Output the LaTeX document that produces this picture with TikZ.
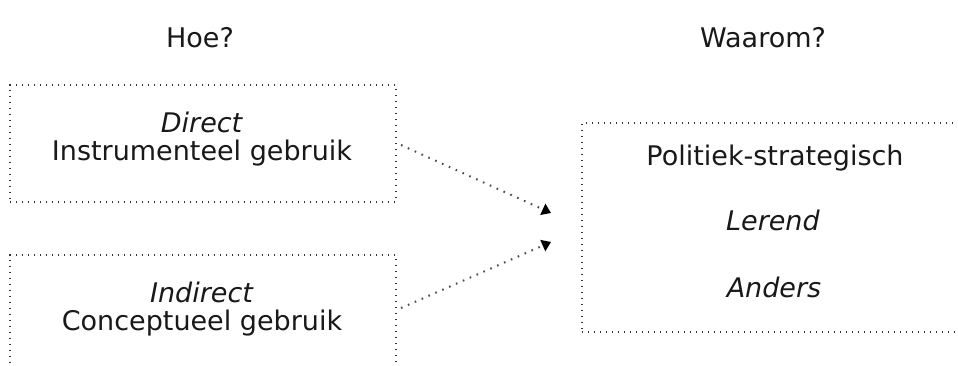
\documentclass[tikz,border=0pt]{standalone}
\usepackage{fontspec}
\setmainfont{DejaVu Sans}
\usetikzlibrary{arrows.meta}

\tikzset{
  frame/.style={draw=black!80, line width=1.4pt, dash pattern=on 1.3pt off 4.7pt,
                inner sep=0pt, outer sep=0pt},
  label/.style={font=\fontsize{27}{32}\selectfont, text=black!90, inner sep=0pt},
  link/.style={draw=black!70, line width=2pt, dash pattern=on 1.6pt off 5.9pt,
               -{Triangle[length=9pt,width=12pt,color=black]}}
}

\begin{document}
\begin{tikzpicture}[x=1pt,y=-1pt]
  \clip (0,0) rectangle (958,365);
  \fill[white] (0,0) rectangle (958,365);

  % column headings
  \node[label] (hoe) at (200,38) {Hoe?};
  \node[label] (waarom) at (763,38) {Waarom?};

  % left column: ways of use
  \node[frame, minimum width=386pt, minimum height=117pt] (direct) at (203,143.5) {};
  \node[label] (directA) at (202,122) {\textit{Direct}};
  \node[label] (directB) at (202,153) {Instrumenteel gebruik};

  \node[frame, minimum width=386pt, minimum height=117pt] (indirect) at (203,313.5) {};
  \node[label] (indirectA) at (202,292) {\textit{Indirect}};
  \node[label] (indirectB) at (202,323) {Conceptueel gebruik};

  % right column: motives
  \node[frame, minimum width=420pt, minimum height=209pt] (motief) at (792,227.5) {};
  \node[label] (pol) at (775,158) {Politiek-strategisch};
  \node[label] (ler) at (773,220) {\textit{Lerend}};
  \node[label] (and) at (774,287) {\textit{Anders}};

  % arrow targets in front of the motive box
  \coordinate (inA) at (551,213);
  \coordinate (inB) at (551,242);

  \draw[link] ([xshift=5pt,yshift=-1.5pt]direct.east) -- (inA);
  \draw[link] ([xshift=5pt,yshift=5.5pt]indirect.east) -- (inB);
\end{tikzpicture}
\end{document}
